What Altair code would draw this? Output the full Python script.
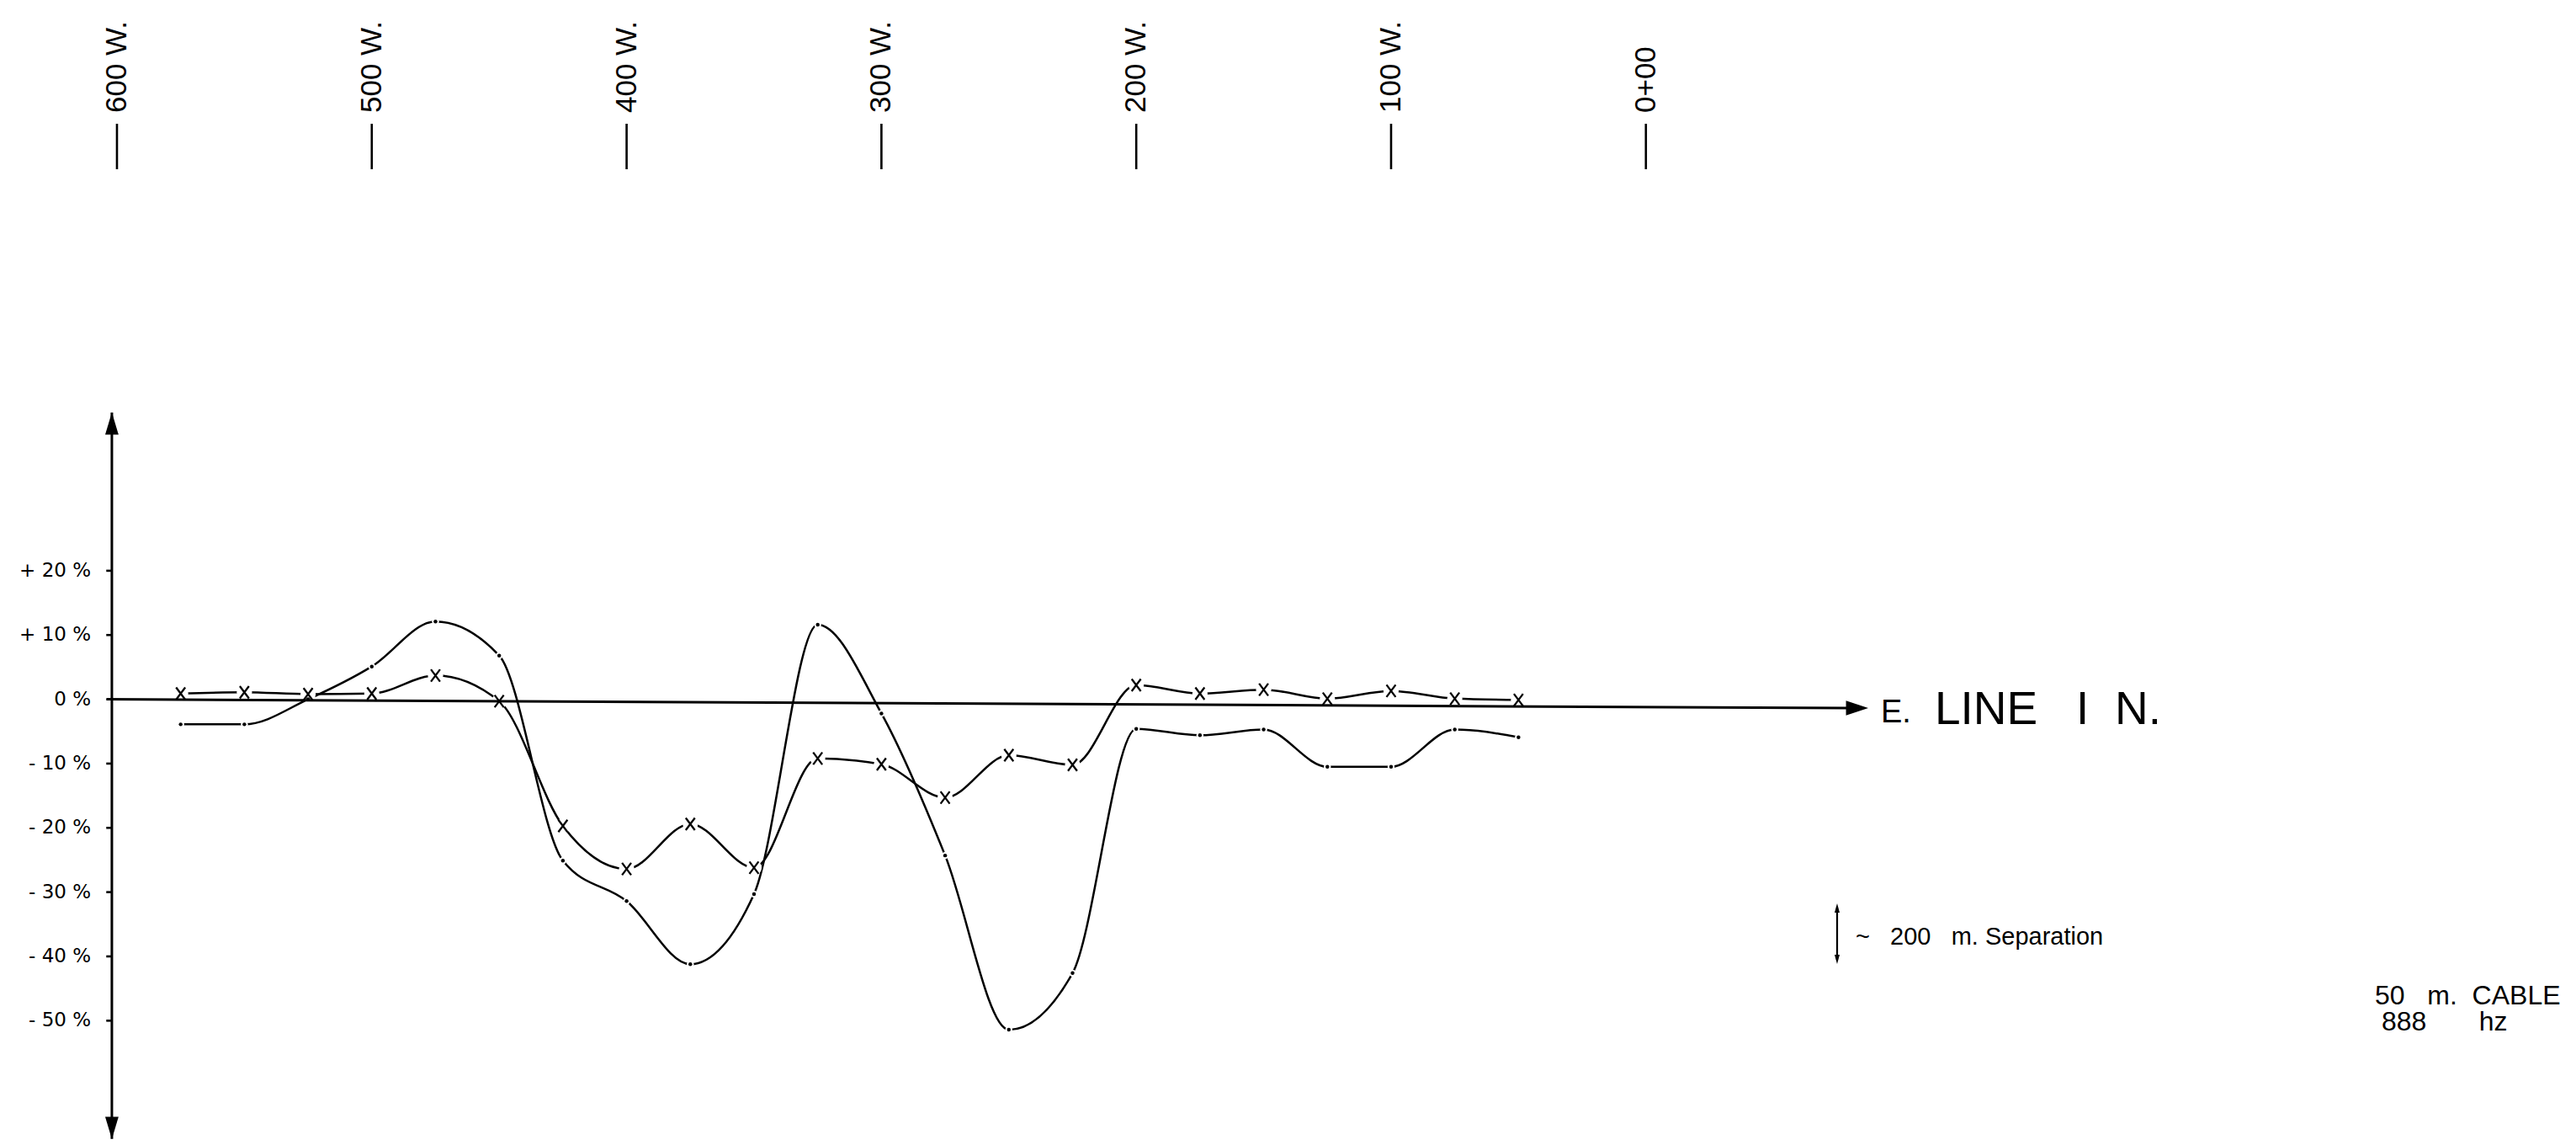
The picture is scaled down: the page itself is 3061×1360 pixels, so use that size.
import altair as alt
import pandas as pd

# Survey stations (metres west of 0+00) where readings were taken
stations_w = [575, 550, 525, 500, 475, 450, 425, 400, 375, 350, 325,
              300, 275, 250, 225, 200, 175, 150, 125, 100, 75, 50]

# Readings drawn with "x" markers (%)
cross_pct = [0.9, 1.1, 0.8, 0.9, 3.7, -0.3, -19.7, -26.4, -19.4, -26.2, -9.2,
             -10.1, -15.3, -8.7, -10.2, 2.2, 0.9, 1.5, 0.1, 1.3, 0.1, -0.1]

# Readings drawn with dot markers (%)
dot_pct = [-3.9, -3.9, 0.0, 5.1, 12.1, 6.8, -25.1, -31.4, -41.2, -30.3, 11.6,
           -2.2, -24.3, -51.4, -42.6, -4.6, -5.6, -4.7, -10.5, -10.5, -4.7, -5.9]

# Station ruler along the top
ruler_w = [600, 500, 400, 300, 200, 100, 0]
ruler_labels = ["600 W.", "500 W.", "400 W.", "300 W.", "200 W.", "100 W.", "0+00"]

# Percentage scale on the vertical axis
pct_ticks = [20, 10, 0, -10, -20, -30, -40, -50]
pct_labels = ["+ 20 %", "+ 10 %", "0 %", "- 10 %", "- 20 %", "- 30 %", "- 40 %", "- 50 %"]

W, H = 3061, 1360
INK = "black"
LETTER = "Liberation Sans, Arial, sans-serif"
NB = "\u00a0"

# West is to the left: the station scale runs from high to low numbers
xs = alt.Scale(domain=[645.9, -365.0], nice=False, zero=False)
ys = alt.Scale(domain=[-69.34, 108.79], nice=False, zero=False)


def xq(field):
    return alt.X(f"{field}:Q", scale=xs, axis=None)


def yq(field):
    return alt.Y(f"{field}:Q", scale=ys, axis=None)


n = len(stations_w)
series = pd.DataFrame({
    "station": stations_w * 2,
    "pct": cross_pct + dot_pct,
    "reading": ["cross"] * n + ["dot"] * n,
})
cross_df = series[series.reading == "cross"]
dot_df = series[series.reading == "dot"]

# Smooth pen curves through the readings
curves = alt.Chart(series).mark_line(
    interpolate="monotone", color=INK, strokeWidth=2.5, strokeCap="round"
).encode(x=xq("station"), y=yq("pct"), detail="reading:N")

# Small breaks in the pen line around each marker
cross_gap = alt.Chart(cross_df).mark_circle(color="white", opacity=1, size=330).encode(
    x=xq("station"), y=yq("pct"))
dot_gap = alt.Chart(dot_df).mark_circle(color="white", opacity=1, size=70).encode(
    x=xq("station"), y=yq("pct"))

# Vertical percentage axis and the 0 % survey line (drawn with a slight tilt)
frame = pd.DataFrame({
    "d0": [602.0, 604.0],
    "d1": [602.0, -79.0],
    "v0": [44.6, 0.0],
    "v1": [-68.4, -1.36],
})
frame_lines = alt.Chart(frame).mark_rule(color=INK, strokeWidth=3).encode(
    x=xq("d0"), x2=alt.X2("d1:Q"), y=yq("v0"), y2=alt.Y2("v1:Q"))

heads = pd.DataFrame({
    "kind": ["up", "down", "right"],
    "d": [602.0, 602.0, -82.9],
    "v": [42.9, -66.7, -1.36],
})
head_marks = alt.Chart(heads).mark_point(filled=True, color=INK, opacity=1, strokeWidth=0).encode(
    x=xq("d"), y=yq("v"),
    shape=alt.Shape("kind:N", legend=None, scale=alt.Scale(
        domain=["up", "down", "right"],
        range=["M 0 -1 L 0.6 1 L -0.6 1 Z",
               "M 0 1 L 0.6 -1 L -0.6 -1 Z",
               "M 1 0 L -1 -0.66 L -1 0.66 Z"])),
    size=alt.value(700),
)

ticks_df = pd.DataFrame({"pct": pct_ticks, "label": pct_labels})
tick_marks = alt.Chart(ticks_df).mark_rule(color=INK, strokeWidth=2.6).encode(
    x=alt.XDatum(604.2, scale=xs, axis=None), x2=alt.X2Datum(602.0), y=yq("pct"))
tick_text = alt.Chart(ticks_df).mark_text(
    align="right", baseline="middle", font="DejaVu Sans, sans-serif", fontSize=23, color=INK
).encode(x=alt.XDatum(610.2, scale=xs, axis=None), y=yq("pct"), text="label:N")

# Markers
cross_marks = alt.Chart(cross_df).mark_point(
    shape="M -0.75 -1 L 0.75 1 M 0.75 -1 L -0.75 1",
    filled=False, color=INK, strokeWidth=2.3, size=210, opacity=1,
).encode(x=xq("station"), y=yq("pct"))
dot_marks = alt.Chart(dot_df).mark_circle(color=INK, size=20, opacity=1).encode(
    x=xq("station"), y=yq("pct"))

# Station ruler
ruler_df = pd.DataFrame({"station": ruler_w, "label": ruler_labels})
ruler_ticks = alt.Chart(ruler_df).mark_rule(color=INK, strokeWidth=2.6).encode(
    x=xq("station"), y=alt.value(147), y2=alt.value(201))
ruler_text = alt.Chart(ruler_df).mark_text(
    angle=270, align="left", baseline="middle", font=LETTER, fontSize=35, color=INK
).encode(x=xq("station"), y=alt.value(134), text="label:N")


def note(text, x, y, size, align="left", baseline="alphabetic"):
    return alt.Chart(alt.Data(values=[{}])).mark_text(
        text=text, align=align, baseline=baseline, font=LETTER, fontSize=size, color=INK
    ).encode(x=alt.value(x), y=alt.value(y))


line_title_e = note("E.", 2235, 858, 38)
line_title = note("LINE" + NB * 3 + "I" + NB * 2 + "N.", 2299, 860, 55)
separation = note("~" + NB * 3 + "200" + NB * 3 + "m." + NB + "Separation", 2205, 1122, 29)
cable_1 = note("50" + NB * 3 + "m." + NB * 2 + "CABLE", 2822, 1193, 32)
cable_2 = note("888" + NB * 7 + "hz", 2830, 1224, 32)

# Double-headed arrow beside the separation note
sep_bar = alt.Chart(alt.Data(values=[{}])).mark_rule(color=INK, strokeWidth=2.2).encode(
    x=alt.value(2183), y=alt.value(1078), y2=alt.value(1140))
sep_up = alt.Chart(alt.Data(values=[{}])).mark_point(
    shape="M 0 -1 L 0.55 1 L -0.55 1 Z", filled=True, color=INK, opacity=1, size=121, strokeWidth=0
).encode(x=alt.value(2183), y=alt.value(1078.5))
sep_down = alt.Chart(alt.Data(values=[{}])).mark_point(
    shape="M 0 1 L 0.55 -1 L -0.55 -1 Z", filled=True, color=INK, opacity=1, size=121, strokeWidth=0
).encode(x=alt.value(2183), y=alt.value(1139.5))

chart = alt.layer(
    curves, cross_gap, dot_gap,
    frame_lines, head_marks, tick_marks, tick_text,
    cross_marks, dot_marks,
    ruler_ticks, ruler_text,
    line_title_e, line_title, separation, cable_1, cable_2,
    sep_bar, sep_up, sep_down,
).properties(
    width=W, height=H,
    autosize=alt.AutoSizeParams(type="none"),
    padding=0,
    background="white",
).configure_view(strokeWidth=0)

chart.save("out.html", embed_options={"renderer": "svg", "actions": False})
